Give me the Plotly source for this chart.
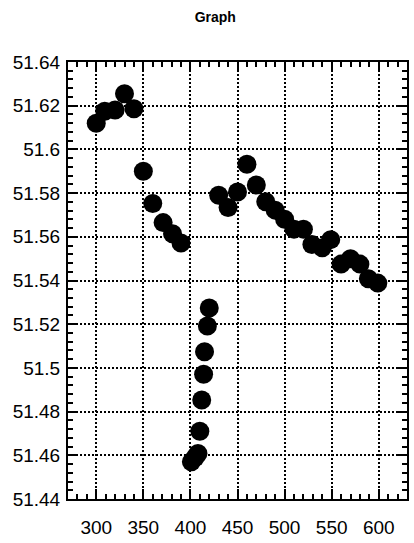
import plotly.graph_objects as go

x_vals = [300, 309, 320, 330, 340, 350, 360, 371, 381, 390,
          401, 405, 408, 410, 412, 414, 415, 418, 420,
          430, 440, 450, 460, 470, 480, 490, 500, 510, 520,
          529, 540, 549, 560, 570, 580, 589, 599]
y_vals = [51.612, 51.6175, 51.618, 51.6255, 51.6186, 51.590, 51.5752, 51.5665, 51.5614, 51.5572,
          51.457, 51.459, 51.4608, 51.471, 51.4853, 51.4971, 51.5074, 51.5192, 51.5274,
          51.579, 51.5734, 51.5805, 51.5932, 51.5837, 51.576, 51.5722, 51.568, 51.5635, 51.5635,
          51.5565, 51.555, 51.5587, 51.5475, 51.550, 51.5475, 51.5408, 51.5388]

x_ticks = [300, 350, 400, 450, 500, 550, 600]
y_ticks = [51.44, 51.46, 51.48, 51.50, 51.52, 51.54, 51.56, 51.58, 51.60, 51.62, 51.64]

fig = go.Figure(go.Scatter(
    x=x_vals, y=y_vals, mode="markers",
    marker=dict(color="black", size=19, line=dict(width=0)),
    showlegend=False,
))

font = dict(family="Liberation Sans, Arial, sans-serif", size=19, color="black")
axis_common = dict(
    showline=True, linecolor="black", linewidth=2, mirror="allticks",
    ticks="inside", ticklen=10, tickwidth=2, tickcolor="black",
    showgrid=True, gridcolor="black", gridwidth=1.5, griddash="1.5px,2.5px",
    zeroline=False, tickfont=font,
)
fig.update_xaxes(range=[270, 630], tickvals=x_ticks, ticklabelstandoff=10,
                 minor=dict(ticks="inside", ticklen=5, tickwidth=1.5, dtick=10,
                            tick0=0, tickcolor="black", showgrid=False),
                 **axis_common)
fig.update_yaxes(range=[51.44, 51.64], tickvals=y_ticks, ticklabelstandoff=2,
                 minor=dict(ticks="inside", ticklen=5, tickwidth=1.5, dtick=0.004,
                            tick0=51.44, tickcolor="black", showgrid=False),
                 **axis_common)

fig.update_layout(
    width=414, height=543,
    margin=dict(l=68, r=5, t=62, b=41),
    paper_bgcolor="white", plot_bgcolor="white",
    title=dict(text="<b>Graph</b>", x=0.52, xanchor="center", y=0.968, yanchor="middle",
               font=dict(family="Liberation Sans, Arial, sans-serif", size=14, color="black")),
)

fig.write_html("out.html")
